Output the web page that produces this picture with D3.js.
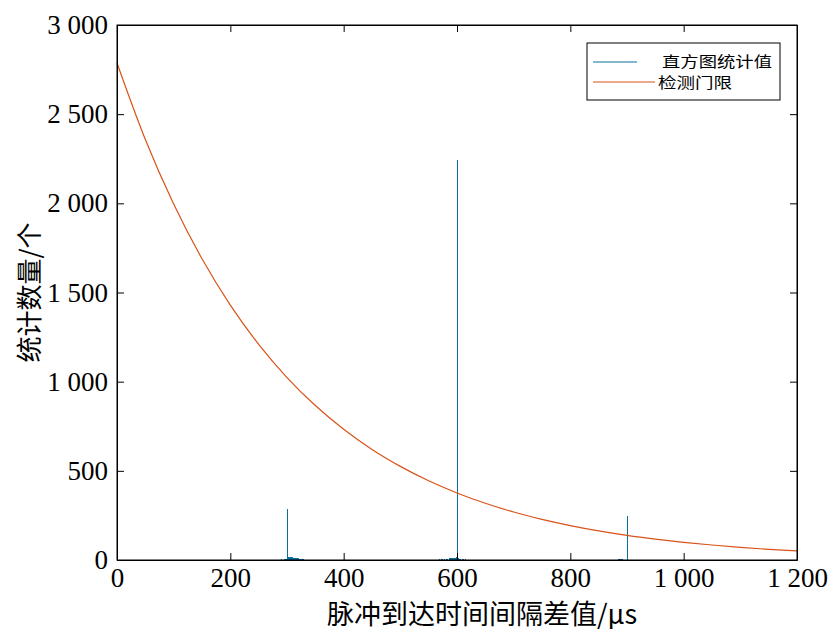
<!DOCTYPE html>
<html>
<head>
<meta charset="utf-8">
<script src="https://cdn.jsdelivr.net/npm/d3@7"></script>
<style>
  body { margin: 0; background: #fff; }
  text { fill: #000; }
</style>
</head>
<body>
<div id="chart"></div>
<script>
// histogram counts, 1 us bins
var histX = [275, 279, 283, 286, 289, 292, 294, 296, 298, 299, 300, 301, 302, 303, 304, 305, 306, 307, 308, 309,
  310, 311, 312, 313, 314, 315, 316, 317, 318, 319, 320, 321, 322, 323, 324, 326, 328, 331, 335,
  552, 556, 560, 564, 568, 571, 574, 577, 580, 583, 585, 587, 589, 591, 593, 595, 597, 598, 599, 600,
  601, 602, 604, 606, 608, 611, 614, 618, 622, 626,
  884, 886, 888, 890, 892, 900];
var histCount = [1, 2, 1, 2, 3, 2, 4, 5, 6, 8, 286, 14, 16, 18, 17, 15, 16, 18, 14, 15,
  13, 14, 12, 13, 11, 12, 10, 9, 10, 8, 9, 7, 6, 7, 5, 4, 3, 2, 1,
  1, 2, 1, 2, 3, 3, 4, 5, 6, 8, 9, 10, 11, 12, 13, 12, 14, 15, 13, 2245,
  10, 9, 8, 6, 5, 4, 3, 2, 2, 1,
  3, 5, 6, 4, 3, 247];

// detection threshold curve
var threshX = [0, 50, 100, 150, 200, 250, 300, 350, 400, 450, 500, 550, 600,
  650, 700, 750, 800, 850, 900, 950, 1000, 1050, 1100, 1150, 1200];
var threshY = [2787, 2358, 1996, 1689, 1429, 1209, 1023, 866, 733, 620, 525, 444, 376,
  318, 269, 228, 193, 163, 138, 117, 99, 84, 71, 60, 51];

var xTicks = [0, 200, 400, 600, 800, 1000, 1200];
var yTicks = [0, 500, 1000, 1500, 2000, 2500, 3000];
var legendLabels = ["直方图统计值", "检测门限"];

var margin = { top: 25, right: 37, bottom: 74, left: 117 },
    width = 834 - margin.left - margin.right,
    height = 634 - margin.top - margin.bottom;

var blue = "#0b6f9e", orange = "#D95319";
var numFont = "'Liberation Serif', 'Times New Roman', serif";
var cjkFont = "'Noto Sans CJK SC', sans-serif";

var svg = d3.select("#chart")
  .append("svg")
    .attr("width", 834)
    .attr("height", 634)
  .append("g")
    .attr("transform", "translate(" + margin.left + "," + margin.top + ")");

var x = d3.scaleLinear().domain([0, 1200]).range([0, width]);
var y = d3.scaleLinear().domain([0, 3000]).range([height, 0]);

// format "1 000" style
var fmt = function (d) { return d3.format(",")(d).replace(/,/g, " "); };

// histogram stems
svg.selectAll(".bar")
  .data(histX)
  .enter()
  .append("line")
    .attr("class", "bar")
    .attr("x1", d => Math.round(x(d)) + 0.5)
    .attr("x2", d => Math.round(x(d)) + 0.5)
    .attr("y1", y(0))
    .attr("y2", (d, i) => y(histCount[i]))
    .style("stroke", blue)
    .style("stroke-width", 1)
    .style("shape-rendering", "crispEdges");

// threshold line
var line = d3.line()
  .x((d, i) => x(d))
  .y((d, i) => y(threshY[i]))
  .curve(d3.curveMonotoneX);

svg.append("path")
  .datum(threshX)
  .attr("d", line)
  .style("fill", "none")
  .style("stroke", orange)
  .style("stroke-width", 1.2);

// axes, ticks inward on all sides
svg.append("g")
  .attr("transform", "translate(0," + height + ")")
  .call(d3.axisBottom(x).tickValues(xTicks).tickSizeInner(-7).tickSizeOuter(0).tickPadding(8).tickFormat(fmt))
  .call(g => g.selectAll("text").style("font-family", numFont).style("font-size", "27px"));

svg.append("g")
  .call(d3.axisTop(x).tickValues(xTicks).tickSizeInner(-7).tickSizeOuter(0).tickFormat(""))
  .call(g => g.selectAll("text").remove());

svg.append("g")
  .call(d3.axisLeft(y).tickValues(yTicks).tickSizeInner(-7).tickSizeOuter(0).tickPadding(9).tickFormat(fmt))
  .call(g => g.selectAll("text").style("font-family", numFont).style("font-size", "27px"));

svg.append("g")
  .attr("transform", "translate(" + width + ",0)")
  .call(d3.axisRight(y).tickValues(yTicks).tickSizeInner(-7).tickSizeOuter(0).tickFormat(""))
  .call(g => g.selectAll("text").remove());

svg.selectAll(".domain").style("stroke", "#000");
svg.selectAll(".tick line").style("stroke", "#000");

// box
svg.append("rect")
  .attr("width", width)
  .attr("height", height)
  .style("fill", "none")
  .style("stroke", "#000")
  .style("stroke-width", 1);

// axis labels
svg.append("text")
  .attr("x", width / 2 + 25)
  .attr("y", height + 64)
  .attr("text-anchor", "middle")
  .style("font-family", cjkFont)
  .style("font-size", "27px")
  .text("脉冲到达时间间隔差值/μs");

svg.append("text")
  .attr("transform", "translate(" + (-78) + "," + (height / 2) + ") rotate(-90)")
  .attr("text-anchor", "middle")
  .style("font-family", cjkFont)
  .style("font-size", "26px")
  .text("统计数量/个");

// legend
var legend = svg.append("g")
  .attr("transform", "translate(" + (587 - margin.left) + "," + (43 - margin.top) + ")");

legend.append("rect")
  .attr("width", 193)
  .attr("height", 57)
  .style("fill", "#fff")
  .style("stroke", "#000")
  .style("stroke-width", 1);

legend.append("line")
  .attr("x1", 6).attr("x2", 50)
  .attr("y1", 19).attr("y2", 19)
  .style("stroke", blue);

legend.append("line")
  .attr("x1", 6).attr("x2", 68)
  .attr("y1", 39).attr("y2", 39)
  .style("stroke", orange);

legend.append("text")
  .attr("x", 75)
  .attr("y", 24)
  .attr("textLength", 110)
  .attr("lengthAdjust", "spacingAndGlyphs")
  .style("font-family", cjkFont)
  .style("font-size", "15px")
  .text(legendLabels[0]);

legend.append("text")
  .attr("x", 71)
  .attr("y", 45)
  .attr("textLength", 74)
  .attr("lengthAdjust", "spacingAndGlyphs")
  .style("font-family", cjkFont)
  .style("font-size", "15px")
  .text(legendLabels[1]);
</script>
</body>
</html>
